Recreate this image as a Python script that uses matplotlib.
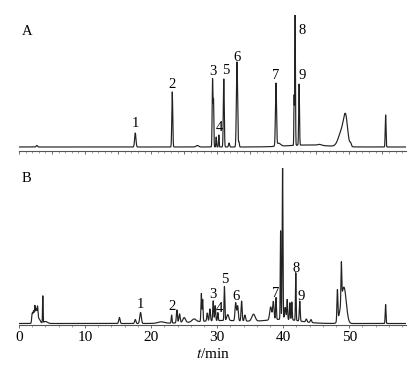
import matplotlib
matplotlib.use('Agg')
import matplotlib.pyplot as plt
from matplotlib.ticker import MultipleLocator
import numpy as np

plt.rcParams['font.family'] = ['Liberation Serif', 'DejaVu Serif']
plt.rcParams['mathtext.fontset'] = 'stix'

# 色谱峰：保留时间(min), 峰高, 峰宽(sigma)
A_rt = [2.7, 17.6, 23.2, 27.0, 29.3, 29.45, 29.85, 30.25, 31.0, 31.8, 33.0, 33.3,
        38.9, 39.3, 43.5, 41.65, 41.8, 42.4, 45.5, 48.9, 49.45, 50.2, 55.5]
A_h = [1.5, 14, 55, 1.5, 68, 45, 10, 12, 68, 4, 85, 5,
       62, 3, 2, 49, 131, 61, 1, 16, 24, 3, 32]
A_w = [0.1, 0.1, 0.07, 0.2, 0.06, 0.05, 0.05, 0.05, 0.07, 0.08, 0.09, 0.06,
       0.08, 0.3, 3.0, 0.04, 0.05, 0.06, 0.3, 0.5, 0.3, 0.1, 0.06]

B_rt = [2.0, 2.2, 2.4, 2.6, 2.8, 3.0, 3.6, 4.0, 15.2, 17.6, 18.4, 21.5, 23.1,
        23.9, 24.3, 25.0, 26.5, 27.6, 27.8, 28.5, 28.9, 29.4, 29.7, 30.1, 31.1,
        31.6, 32.8, 33.1, 33.7, 34.2, 35.5, 38.1, 38.5, 38.9, 39.6, 39.9, 40.3,
        40.6, 41.0, 41.3, 41.9, 42.5, 43.5, 44.2, 48.2, 48.8, 49.0, 49.3, 55.5,
        31.0, 40.0]
B_h = [10, 12, 17, 14, 14, 5, 27, 2, 6, 4, 11, 1.5, 8,
       13, 9, 5, 3, 28, 22, 8, 12, 20, 15, 8, 34,
       6, 18, 15, 20, 6, 7, 13, 18, 22, 89, 156, 12,
       20, 17, 18, 48, 20, 3, 3, 31, 38, 22, 18, 19,
       3, 4]
B_w = [0.08, 0.08, 0.07, 0.08, 0.07, 0.2, 0.04, 0.3, 0.1, 0.1, 0.12, 0.5, 0.06,
       0.08, 0.1, 0.2, 0.3, 0.06, 0.06, 0.08, 0.08, 0.07, 0.07, 0.06, 0.06,
       0.15, 0.1, 0.1, 0.08, 0.1, 0.25, 0.15, 0.1, 0.06, 0.05, 0.06, 0.1,
       0.06, 0.06, 0.06, 0.05, 0.07, 0.1, 0.1, 0.07, 0.06, 0.4, 0.3, 0.06,
       4.0, 2.5]

# 峰标注：编号, 位置, 高度
A_lab = ['1', '2', '3', '4', '5', '6', '7', '8', '9']
A_lab_x = [17.6, 23.1, 29.3, 30.3, 31.3, 33.0, 38.8, 42.8, 42.8]
A_lab_y = [23, 62, 75, 19, 76, 89, 71, 116, 71]
B_lab_x = [18.4, 23.1, 29.3, 30.3, 31.1, 32.9, 38.8, 41.9, 42.7]
B_lab_y = [19, 17, 29, 15, 44, 27, 30, 55, 27]


def trace(t, rt, h, w):
    y = np.zeros_like(t)
    for r, hh, ww in zip(rt, h, w):
        y += hh * np.exp(-0.5 * ((t - r) / ww) ** 2)
    return y


t = np.linspace(0, 58.6, 8000)
yA = trace(t, A_rt, A_h, A_w)
yB = trace(t, B_rt, B_h, B_w)

fig = plt.figure(figsize=(4.18, 3.71), dpi=100)
axA = fig.add_axes([0.0455, 0.593, 0.926, 0.367])
axB = fig.add_axes([0.0455, 0.124, 0.926, 0.423])

for ax, y, ylim in [(axA, yA, (-4, 132)), (axB, yB, (-1.5, 156))]:
    ax.plot(t, y, color='#222222', lw=0.85)
    ax.set_xlim(0, 58.6)
    ax.set_ylim(*ylim)
    for s in ['top', 'right', 'left']:
        ax.spines[s].set_visible(False)
    ax.spines['bottom'].set_color('#555555')
    ax.spines['bottom'].set_linewidth(0.8)
    ax.set_yticks([])
    ax.tick_params(axis='x', which='major', length=2.5, width=0.6, color='#555555')
    ax.tick_params(axis='x', which='minor', length=1.2, width=0.5, color='#777777')

axA.xaxis.set_major_locator(MultipleLocator(5))
axA.xaxis.set_minor_locator(MultipleLocator(1))
axA.set_xticklabels([])
axB.xaxis.set_major_locator(MultipleLocator(10))
axB.xaxis.set_minor_locator(MultipleLocator(2))
axB.tick_params(axis='x', labelsize=11, pad=2)
axB.set_xlabel('$t$/min', fontsize=11, labelpad=2)

for lab, x, y in zip(A_lab, A_lab_x, A_lab_y):
    axA.text(x, y, lab, fontsize=10.5, ha='center', va='center')
for lab, x, y in zip(A_lab, B_lab_x, B_lab_y):
    axB.text(x, y, lab, fontsize=10.5, ha='center', va='center')

axA.text(1.2, 115, 'A', fontsize=10.5, ha='center', va='center')
axB.text(1.2, 146, 'B', fontsize=10.5, ha='center', va='center')

fig.savefig('out.png', dpi=100)
